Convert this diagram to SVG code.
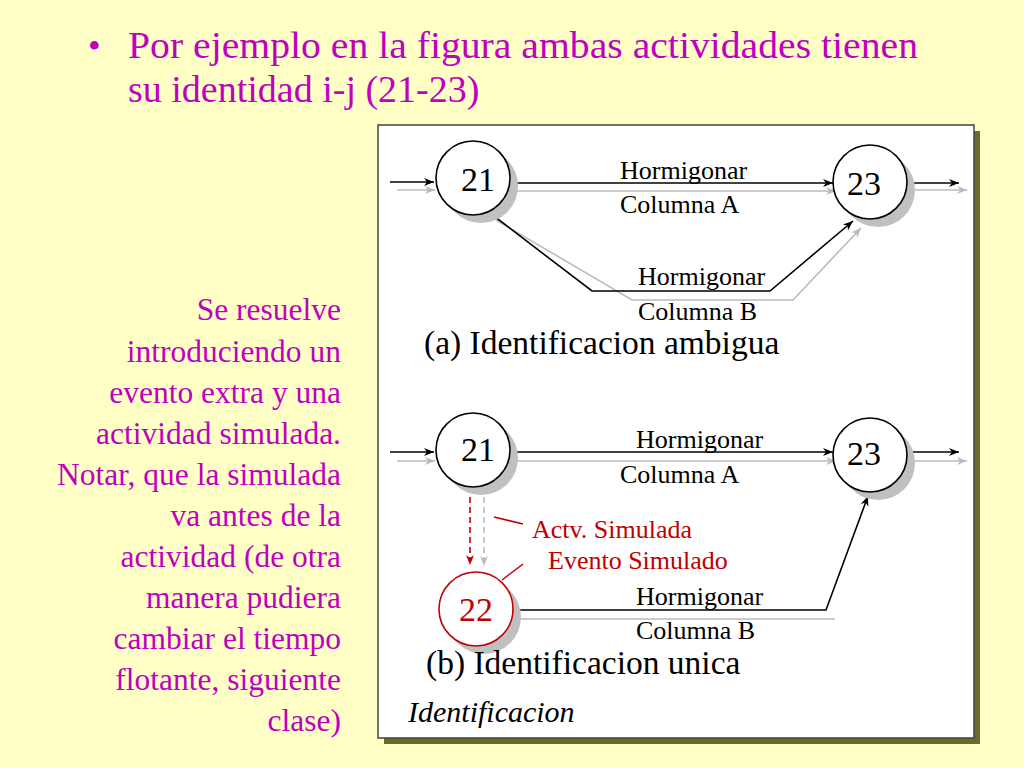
<svg xmlns="http://www.w3.org/2000/svg" width="1024" height="768" viewBox="0 0 1024 768">
<style>
.t{font-family:"Liberation Serif",serif;fill:#000}
.m{font-family:"Liberation Serif",serif;fill:#C000C0;font-size:31.5px;text-anchor:end}
.ln{stroke:#000;stroke-width:1.6;fill:none}
.sh{stroke:#BBB;stroke-width:1.6;fill:none}
.c{fill:#fff;stroke:#000;stroke-width:1.6}
.cs{fill:#C0C0C0}
</style>
<defs>
<marker id="a" viewBox="0 0 10 10" refX="10" refY="5" markerWidth="10" markerHeight="10" markerUnits="userSpaceOnUse" orient="auto"><path d="M0,1L10,5L0,9L3,5z" fill="#000"/></marker>
<marker id="g" viewBox="0 0 10 10" refX="10" refY="5" markerWidth="10" markerHeight="10" markerUnits="userSpaceOnUse" orient="auto"><path d="M0,1L10,5L0,9L3,5z" fill="#BBB"/></marker>
<marker id="rd" viewBox="0 0 10 10" refX="10" refY="5" markerWidth="10" markerHeight="10" markerUnits="userSpaceOnUse" orient="auto"><path d="M0,1L10,5L0,9L3,5z" fill="#C00000"/></marker>
</defs>
<rect width="1024" height="768" fill="#FFFFC6"/>
<text x="88" y="58" font-family="Liberation Serif,serif" font-size="36" fill="#C000C0">•</text>
<text x="128" y="58" font-family="Liberation Serif,serif" font-size="38" fill="#C000C0" textLength="790" lengthAdjust="spacingAndGlyphs">Por ejemplo en la figura ambas actividades tienen</text>
<text x="128" y="102" font-family="Liberation Serif,serif" font-size="38" fill="#C000C0">su identidad i-j (21-23)</text>
<text class="m"><tspan x="341" y="320">Se resuelve</tspan><tspan x="341" y="362">introduciendo un</tspan><tspan x="341" y="403">evento extra y una</tspan><tspan x="341" y="444">actividad simulada.</tspan><tspan x="341" y="485">Notar, que la simulada</tspan><tspan x="341" y="526">va antes de la</tspan><tspan x="341" y="567">actividad (de otra</tspan><tspan x="341" y="608">manera pudiera</tspan><tspan x="341" y="649">cambiar el tiempo</tspan><tspan x="341" y="690">flotante, siguiente</tspan><tspan x="341" y="731">clase)</tspan></text>
<rect x="384" y="131" width="596" height="613" fill="#6B6B2A"/>
<rect x="378" y="125" width="596" height="613" fill="#fff" stroke="#444" stroke-width="1.5"/>
<g id="connectors">
<line class="sh" x1="397" y1="190" x2="435" y2="190" marker-end="url(#g)"/>
<line class="ln" x1="390" y1="182" x2="434" y2="182" marker-end="url(#a)"/>
<line class="sh" x1="515" y1="191" x2="836" y2="191" marker-end="url(#g)"/>
<line class="ln" x1="510" y1="183" x2="833" y2="183" marker-end="url(#a)"/>
<line class="sh" x1="915" y1="190" x2="967" y2="190" marker-end="url(#g)"/>
<line class="ln" x1="908" y1="183" x2="959" y2="183" marker-end="url(#a)"/>
<polyline class="sh" points="496,220 632,300 723,300 793,300 861,228" marker-end="url(#g)"/>
<polyline class="ln" points="486,210 592,291 713,291 770,291 853,221" marker-end="url(#a)"/>
<line class="sh" x1="397" y1="461" x2="435" y2="461" marker-end="url(#g)"/>
<line class="ln" x1="390" y1="452" x2="434" y2="452" marker-end="url(#a)"/>
<line class="sh" x1="515" y1="461" x2="836" y2="461" marker-end="url(#g)"/>
<line class="ln" x1="510" y1="452" x2="833" y2="452" marker-end="url(#a)"/>
<line class="sh" x1="915" y1="461" x2="967" y2="461" marker-end="url(#g)"/>
<line class="ln" x1="908" y1="452" x2="959" y2="452" marker-end="url(#a)"/>
<line x1="470" y1="497" x2="470" y2="565" stroke="#C00000" stroke-width="1.6" stroke-dasharray="6,4" marker-end="url(#rd)"/>
<line x1="484" y1="497" x2="484" y2="566" stroke="#BBB" stroke-width="1.6" stroke-dasharray="6,4" marker-end="url(#g)"/>
<line class="sh" x1="508" y1="619" x2="835" y2="619"/>
<polyline class="ln" points="500,610 826,610 868,496" marker-end="url(#a)"/>
<line x1="494" y1="517" x2="523" y2="524" stroke="#C00000" stroke-width="1.5"/>
<line x1="502" y1="580" x2="523" y2="564" stroke="#C00000" stroke-width="1.5"/>
</g>
<g id="n21a"><circle class="cs" cx="481" cy="186" r="37"/><circle class="c" cx="473" cy="178" r="37"/><text class="t" x="478" y="191" font-size="34" text-anchor="middle">21</text></g>
<g id="n23a"><circle class="cs" cx="878" cy="190" r="37"/><circle class="c" cx="870" cy="182" r="37"/><text class="t" x="864" y="195" font-size="34" text-anchor="middle">23</text></g>
<g id="n21b"><circle class="cs" cx="481" cy="458" r="37"/><circle class="c" cx="473" cy="450" r="37"/><text class="t" x="478" y="461" font-size="34" text-anchor="middle">21</text></g>
<g id="n23b"><circle class="cs" cx="878" cy="463" r="37"/><circle class="c" cx="870" cy="455" r="37"/><text class="t" x="864" y="465" font-size="34" text-anchor="middle">23</text></g>
<g id="n22"><circle class="cs" cx="484" cy="617" r="37"/><circle cx="476" cy="609" r="37" fill="#fff" stroke="#C00000" stroke-width="1.6"/><text class="t" x="476" y="621" font-size="34" text-anchor="middle" style="fill:#C00000">22</text></g>
<g class="t" font-size="26">
<text x="620" y="179">Hormigonar</text>
<text x="620" y="213">Columna A</text>
<text x="638" y="285">Hormigonar</text>
<text x="638" y="320">Columna B</text>
<text x="424" y="354" font-size="33.5">(a) Identificacion ambigua</text>
<text x="636" y="448">Hormigonar</text>
<text x="620" y="483">Columna A</text>
<text x="532" y="538" style="fill:#C00000">Actv. Simulada</text>
<text x="548" y="569" style="fill:#C00000">Evento Simulado</text>
<text x="636" y="605">Hormigonar</text>
<text x="636" y="639">Columna B</text>
<text x="426" y="674" font-size="33.5">(b) Identificacion unica</text>
<text x="408" y="722" font-size="30" font-style="italic">Identificacion</text>
</g>
</svg>
